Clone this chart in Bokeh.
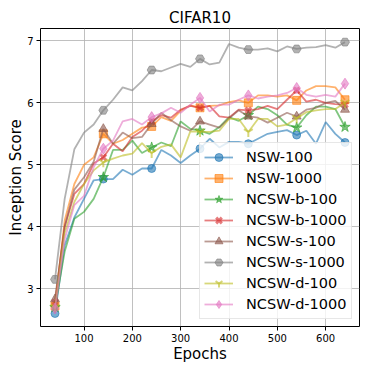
from bokeh.plotting import figure
from bokeh.models import Range1d, FixedTicker, Legend, LegendItem, Spacer
from bokeh.layouts import column, row
from bokeh.embed import file_html
from bokeh.resources import INLINE

epochs = [40, 60, 80, 100, 120, 140, 160, 180, 200, 220, 240, 260, 280, 300, 320,
          340, 360, 380, 400, 420, 440, 460, 480, 500, 520, 540, 560, 580, 600, 620, 640]

nsw_100 = [2.60, 3.70, 4.15, 4.45, 4.75, 4.77, 4.77, 4.92, 4.84, 4.94, 4.94, 5.24, 5.15, 5.03, 5.15,
           5.26, 5.42, 5.28, 5.37, 5.37, 5.34, 5.42, 5.50, 5.53, 5.56, 5.48, 5.55, 5.34, 5.69, 5.50, 5.36]
nsw_1000 = [2.72, 4.10, 4.69, 5.00, 5.12, 5.50, 5.34, 5.40, 5.50, 5.60, 5.62, 5.77, 5.71, 5.87, 5.96,
            5.92, 5.95, 5.96, 6.01, 6.04, 6.00, 6.12, 6.12, 6.10, 6.12, 6.04, 6.20, 6.27, 6.27, 6.25, 6.05]
ncsw_b_100 = [2.70, 3.60, 4.13, 4.24, 4.45, 4.80, 5.24, 5.24, 5.39, 5.19, 5.28, 5.36, 5.30, 5.70, 5.58,
              5.55, 5.50, 5.61, 5.77, 5.71, 5.80, 5.94, 5.90, 5.80, 5.65, 5.60, 5.80, 5.94, 5.94, 5.90, 5.61]
ncsw_b_1000 = [2.78, 4.00, 4.53, 4.69, 5.02, 5.12, 5.34, 5.22, 5.45, 5.55, 5.70, 5.80, 5.76, 5.89, 5.95,
               5.92, 5.95, 5.78, 5.76, 5.89, 5.88, 5.90, 5.95, 5.90, 6.05, 6.20, 6.02, 6.05, 6.00, 5.98, 5.97]
ncsw_s_100 = [2.83, 4.00, 4.60, 4.80, 5.05, 5.58, 5.34, 5.52, 5.43, 5.45, 5.66, 5.84, 5.72, 5.62, 5.55,
              5.70, 5.65, 5.60, 5.75, 5.88, 5.78, 5.76, 5.68, 5.76, 5.84, 5.78, 5.89, 5.92, 6.00, 6.03, 5.89]
ncsw_s_1000 = [3.15, 4.45, 5.25, 5.52, 5.65, 5.88, 6.05, 6.25, 6.20, 6.35, 6.53, 6.51, 6.57, 6.63, 6.58,
               6.71, 6.62, 6.65, 6.95, 6.89, 6.86, 6.86, 6.88, 6.83, 6.91, 6.87, 6.89, 6.90, 6.93, 6.89, 6.98]
ncsw_d_100 = [2.70, 3.90, 4.40, 4.69, 4.91, 5.04, 5.10, 5.15, 5.18, 5.35, 5.19, 5.29, 5.33, 5.12, 5.54,
              5.53, 5.53, 5.55, 5.74, 5.74, 5.53, 5.74, 5.74, 5.62, 5.65, 5.75, 5.85, 5.88, 5.90, 5.90, 6.00]
ncsw_d_1000 = [2.68, 3.80, 4.35, 4.50, 4.96, 5.26, 5.39, 5.70, 5.74, 5.65, 5.77, 5.83, 5.92, 5.84, 5.97,
               6.08, 5.86, 5.97, 5.97, 6.05, 6.12, 6.07, 6.10, 6.12, 6.16, 6.24, 6.13, 6.10, 6.13, 6.10, 6.31]

labels = ["NSW-100", "NSW-1000", "NCSW-b-100", "NCSW-b-1000",
          "NCSW-s-100", "NCSW-s-1000", "NCSW-d-100", "NCSW-d-1000"]
series = [nsw_100, nsw_1000, ncsw_b_100, ncsw_b_1000, ncsw_s_100, ncsw_s_1000, ncsw_d_100, ncsw_d_1000]
colors = ["#1f77b4", "#ff7f0e", "#2ca02c", "#d62728", "#8c564b", "#7f7f7f", "#bcbd22", "#e377c2"]
markers = ["circle", "square", "star", "x", "triangle", "hex", "y", "diamond"]
msizes = [8, 8, 11, 8, 9, 9, 10, 11]
mwidths = [1, 1, 1, 3, 1, 1, 2, 1]
x_ticks = [100, 200, 300, 400, 500, 600]
y_ticks = [3, 4, 5, 6, 7]

FONT = "DejaVu Sans"

p = figure(frame_width=319, frame_height=298, output_backend="svg", toolbar_location=None,
           x_range=Range1d(10, 670), y_range=Range1d(2.39, 7.2),
           min_border_left=20, min_border_right=3, min_border_top=20, min_border_bottom=36,
           title="CIFAR10")
p.title.align = "center"
p.title.text_font = FONT
p.title.text_font_size = "15px"
p.title.text_font_style = "normal"
p.title.text_color = "black"
p.title.offset = 0
p.title.standoff = 3

p.outline_line_color = "black"
p.outline_line_width = 1
p.outline_line_alpha = 1

for ax in (p.xaxis[0], p.yaxis[0]):
    ax.axis_line_color = None
    ax.major_tick_in = 0
    ax.major_tick_out = 4
    ax.minor_tick_line_color = None
    ax.major_label_text_font = FONT
    ax.major_label_text_font_size = "10px"
    ax.major_label_text_color = "black"
    ax.axis_label_text_font = FONT
    ax.axis_label_text_font_size = "15px"
    ax.axis_label_text_font_style = "normal"
    ax.axis_label_text_color = "black"
    ax.major_label_standoff = 3
    ax.axis_label_standoff = 3

p.xaxis[0].axis_label_standoff = 0
p.yaxis[0].axis_label_standoff = -1

p.xaxis.ticker = FixedTicker(ticks=x_ticks)
p.yaxis.ticker = FixedTicker(ticks=y_ticks)
p.xaxis.axis_label = "Epochs"
p.yaxis.axis_label = "Inception Score"

p.grid.grid_line_color = "#b0b0b0"
p.grid.grid_line_width = 1
p.grid.grid_line_alpha = 0.8

items = []
for vals, lab, col, mk, ms, mw in zip(series, labels, colors, markers, msizes, mwidths):
    ln = p.line(epochs, vals, line_color=col, line_width=1.8, line_alpha=0.6)
    mx = epochs[::5]
    my = vals[::5]
    sc = p.scatter(mx, my, marker=mk, size=ms, fill_color=col, line_color=col,
                   fill_alpha=0.6, line_alpha=0.6, line_width=mw)
    items.append(LegendItem(label=lab, renderers=[ln, sc]))

legend = Legend(items=items, location=(159, 7))
legend.label_text_font = FONT
legend.label_text_font_size = "14.5px"
legend.label_text_color = "black"
legend.glyph_width = 29
legend.glyph_height = 20
legend.label_height = 20
legend.label_standoff = 13
legend.spacing = 1
legend.padding = 4
legend.margin = 0
legend.border_line_color = "#d0d0d0"
legend.border_line_width = 1
legend.background_fill_alpha = 0.8
p.add_layout(legend, "center")

layout = column(Spacer(height=5), row(Spacer(width=4), p, spacing=0), spacing=0)

open("out.html", "w").write(file_html(layout, INLINE))
